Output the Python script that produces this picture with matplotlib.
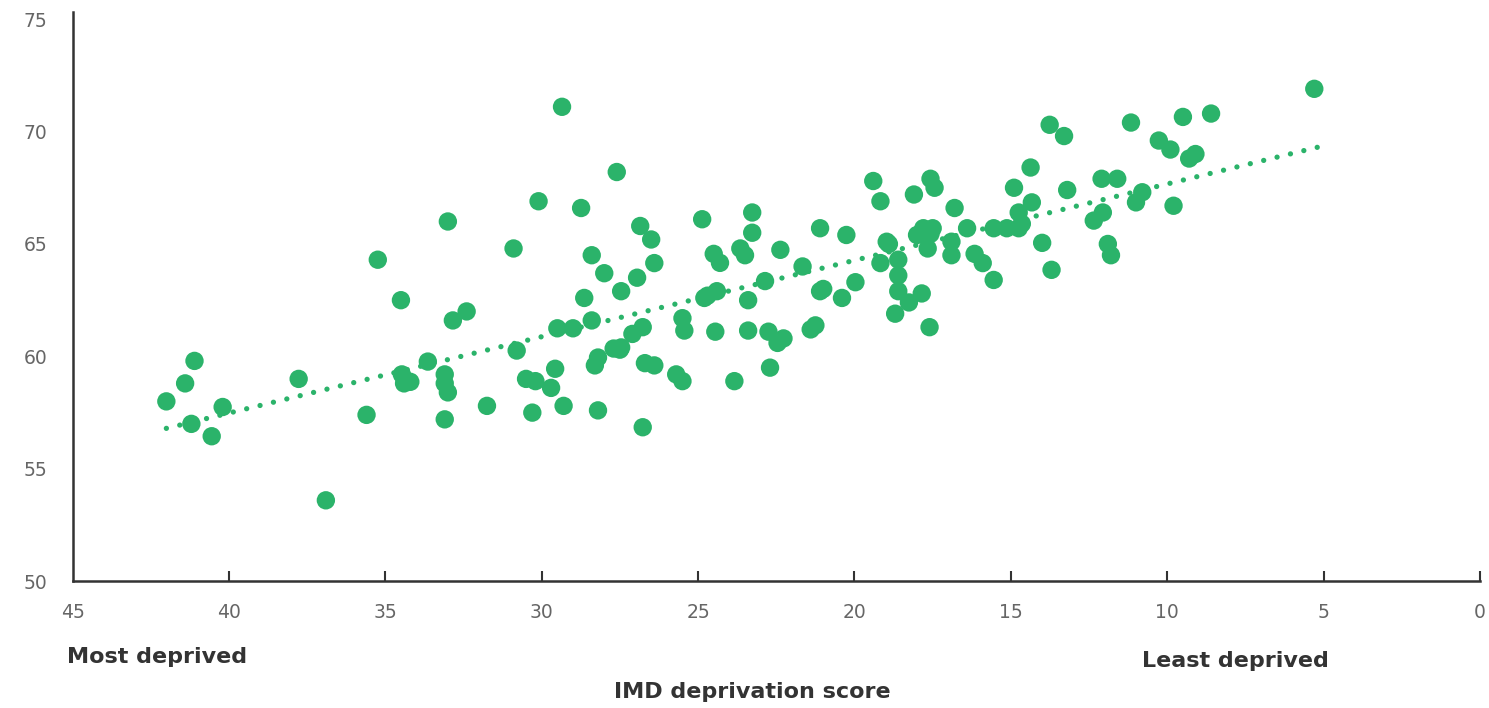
import matplotlib
matplotlib.use("Agg")
import matplotlib.pyplot as plt

# IMD deprivation score (x) against healthy life expectancy (y)
imd_score = [
    42.0, 41.4, 41.1, 41.2, 40.2, 40.55, 37.77, 36.9, 35.6, 35.24,
    34.5, 34.47, 34.4, 34.2, 33.64, 33.1, 33.1, 33.0, 33.1, 33.0,
    32.84, 32.4, 31.75, 30.9, 30.8, 30.5, 30.3, 30.2, 30.1, 29.7,
    29.57, 29.5, 29.35, 29.3, 29.0, 28.74, 28.64, 28.4, 28.4, 28.3,
    28.2, 28.2, 28.0, 27.7, 27.6, 27.5, 27.46, 27.46, 27.1, 26.95,
    26.85, 26.77, 26.7, 26.77, 26.5, 26.4, 26.4, 25.7, 25.5, 25.44,
    25.5, 24.87, 24.8, 24.7, 24.5, 24.4, 24.45, 24.3, 23.84, 23.65,
    23.5, 23.4, 23.4, 23.27, 23.27, 22.86, 22.75, 22.7, 22.46, 22.27,
    22.37, 21.66, 21.4, 21.25, 21.1, 21.1, 21.0, 20.4, 20.26, 19.97,
    19.4, 19.17, 19.17, 18.97, 18.9, 18.7, 18.6, 18.6, 18.6, 18.26,
    18.1, 18.0, 17.85, 17.8, 17.6, 17.57, 17.44, 17.66, 17.57, 17.5,
    16.9, 16.9, 16.8, 16.4, 16.16, 15.9, 15.55, 15.55, 15.13, 14.9,
    14.75, 14.75, 14.65, 14.37, 14.33, 14.0, 13.76, 13.7, 13.3, 13.2,
    12.35, 12.1, 12.06, 11.9, 11.8, 11.6, 11.16, 11.0, 10.8, 10.27,
    9.9, 9.8, 9.5, 9.3, 9.1, 8.6, 5.3,
]
life_exp = [
    58.0, 58.8, 59.8, 57.0, 57.75, 56.45, 59.0, 53.6, 57.4, 64.3,
    62.5, 59.2, 58.8, 58.87, 59.77, 59.2, 58.8, 58.4, 57.2, 66.0,
    61.6, 62.0, 57.8, 64.8, 60.26, 59.0, 57.5, 58.9, 66.9, 58.6,
    59.45, 61.25, 71.1, 57.8, 61.25, 66.6, 62.6, 64.5, 61.6, 59.6,
    59.95, 57.6, 63.7, 60.35, 68.2, 60.3, 62.9, 60.4, 61.0, 63.5,
    65.8, 61.3, 59.7, 56.85, 65.2, 64.15, 59.6, 59.2, 61.7, 61.15,
    58.9, 66.1, 62.6, 62.7, 64.56, 62.9, 61.1, 64.16, 58.9, 64.8,
    64.5, 61.15, 62.5, 66.4, 65.5, 63.35, 61.1, 59.5, 60.6, 60.8,
    64.74, 64.0, 61.2, 61.38, 65.7, 62.9, 63.0, 62.6, 65.4, 63.3,
    67.8, 66.9, 64.15, 65.1, 65.0, 61.9, 62.9, 63.6, 64.3, 62.4,
    67.2, 65.4, 62.8, 65.7, 61.3, 67.9, 67.5, 64.8, 65.45, 65.7,
    64.5, 65.1, 66.6, 65.7, 64.56, 64.15, 63.4, 65.7, 65.7, 67.5,
    66.4, 65.7, 65.9, 68.4, 66.85, 65.05, 70.3, 63.85, 69.8, 67.4,
    66.04, 67.9, 66.4, 65.0, 64.5, 67.9, 70.4, 66.85, 67.3, 69.6,
    69.2, 66.7, 70.65, 68.8, 69.0, 70.8, 71.9,
]

# trend line ends
trend_x = [42.0, 5.2]
trend_y = [56.8, 69.3]

x_ticks = [45, 40, 35, 30, 25, 20, 15, 10, 5, 0]
y_ticks = [50, 55, 60, 65, 70, 75]

green = "#2bb36a"
plt.rcParams['font.family'] = ['DejaVu Sans']

fig = plt.figure(figsize=(14.89, 7.08), dpi=100)
ax = fig.add_axes([0.0487, 0.179, 0.9453, 0.794])

ax.scatter(imd_score, life_exp, s=175, color=green, edgecolors='none', zorder=3)
ax.plot(trend_x, trend_y, color=green, linewidth=3.8,
        linestyle=(0, (0.01, 2.6)), dash_capstyle='round', zorder=2)

ax.set_xlim(45, 0)
ax.set_ylim(50, 75)
ax.set_xticks(x_ticks)
ax.set_yticks(y_ticks)

for side in ['top', 'right']:
    ax.spines[side].set_visible(False)
for side in ['left', 'bottom']:
    ax.spines[side].set_color('#333333')
    ax.spines[side].set_linewidth(1.8)
ax.spines['left'].set_bounds(50, 75.3)

ax.tick_params(axis='x', direction='in', length=7, width=1.5, color='#333333',
               labelsize=13.5, labelcolor='#666666', pad=16)
ax.tick_params(axis='y', length=0, labelsize=13.5, labelcolor='#666666', pad=18)
ax.xaxis.get_major_ticks()[0].tick1line.set_visible(False)

label_style = dict(fontsize=16, fontweight='bold', color='#333333',
                   va='center')
fig.text(0.045, 0.072, "Most deprived", ha='left', **label_style)
fig.text(0.830, 0.067, "Least deprived", ha='center', **label_style)
fig.text(0.505, 0.022, "IMD deprivation score", ha='center', **label_style)

fig.savefig("out.png", dpi=100, facecolor='white')
